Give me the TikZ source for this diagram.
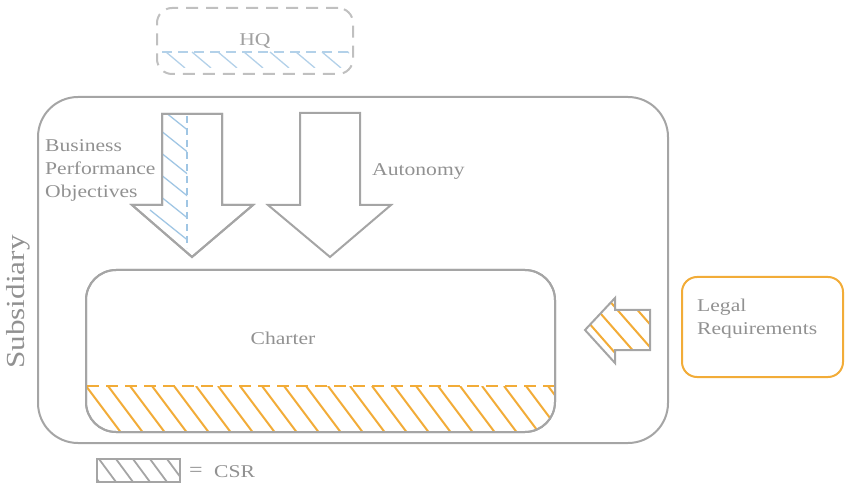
\documentclass[tikz,border=0pt]{standalone}
\usepackage{fontspec}
\setmainfont{Liberation Serif}[FakeStretch=1.2]
\definecolor{linegray}{RGB}{165,165,165}
\definecolor{txtgray}{RGB}{145,145,145}
\definecolor{csrorange}{RGB}{242,172,56}
\definecolor{hqblue}{RGB}{160,198,228}
\tikzset{
  box/.style={draw=linegray, line width=2pt, inner sep=0pt},
  lbl/.style={text=txtgray, font=\fontsize{18}{23}\selectfont, inner sep=0pt},
  bigarrow/.style={draw=linegray, line width=2pt, line join=miter, fill=white},
}
\begin{document}
\begin{tikzpicture}[x=1pt,y=-1pt]
\useasboundingbox (0,0) rectangle (846,486);

% subsidiary frame
\node[box, minimum width=630pt, minimum height=346pt, rounded corners=40pt] (sub) at (353,270) {};
\node[lbl, font=\fontsize{26}{30}\selectfont, rotate=90] (subtxt) at (18,302) {Subsidiary};

% headquarters box with its blue stripe
\node[box, draw=linegray!70, dashed, dash pattern=on 12pt off 8pt, minimum width=196pt, minimum height=66pt, rounded corners=15pt] (hq) at (255,41) {};
\begin{scope}
  \clip (160,52) rectangle (349,68);
  \foreach \x in {140,166,...,360}
    \draw[hqblue!80, line width=1.3pt] (\x,52) -- (\x+19,68);
\end{scope}
\draw[hqblue!80, line width=1.3pt, dashed, dash pattern=on 10pt off 6pt] (162,52) -- (349,52);
\node[lbl, text=txtgray!85] (hqtxt) at (255,41) {HQ};

% business performance arrow
\path[bigarrow] (162,114) -- (222,114) -- (222,205) -- (253,205) -- (192,257) -- (132,205) -- (162,205) -- cycle;
\begin{scope}
  \clip (162,114) -- (222,114) -- (222,205) -- (253,205) -- (192,257) -- (132,205) -- (162,205) -- cycle;
  \clip (120,110) rectangle (187,260);
  \foreach \y in {100,122,...,280}
    \draw[hqblue, line width=1.3pt] (150,\y) -- (200,\y+40);
\end{scope}
\draw[hqblue, line width=1.3pt, dashed, dash pattern=on 7pt off 5pt] (187,116) -- (187,248);
\draw[linegray, line width=2pt, line join=miter] (162,114) -- (222,114) -- (222,205) -- (253,205) -- (192,257) -- (132,205) -- (162,205) -- cycle;

% autonomy arrow
\path[bigarrow] (300,113) -- (360,113) -- (360,205) -- (391,205) -- (330,257) -- (268,205) -- (300,205) -- cycle;

\node[lbl, anchor=west, align=left] (bpo) at (45,170) {Business\\Performance\\Objectives};
\node[lbl, anchor=west] (aut) at (372,172) {Autonomy};

% charter with its CSR band
\node[box, minimum width=469pt, minimum height=162pt, rounded corners=30pt] (charter) at (320.5,351) {};
\begin{scope}
  \clip[rounded corners=30pt] (86,270) rectangle (555,432);
  \clip (80,386) rectangle (560,440);
  \foreach \x in {42,64,...,570}
    \draw[csrorange, line width=2pt] (\x,386) -- (\x+36,434);
\end{scope}
\draw[csrorange, line width=2pt, dashed, dash pattern=on 12pt off 7pt] (87,386) -- (554,386);
\draw[linegray, line width=2pt, rounded corners=30pt] (86,270) rectangle (555,432);
\node[lbl] (chtxt) at (283,338) {Charter};

% legal requirements and its arrow
\node[draw=csrorange, line width=2pt, minimum width=161pt, minimum height=100pt, rounded corners=15pt] (legal) at (762.5,327) {};
\node[lbl, anchor=west, align=left] (legtxt) at (697,319) {Legal\\Requirements};
\path[fill=white] (650,310) -- (615,310) -- (615,298) -- (585,330) -- (615,363) -- (615,350) -- (650,350) -- cycle;
\begin{scope}
  \clip (650,310) -- (615,310) -- (615,298) -- (585,330) -- (615,363) -- (615,350) -- (650,350) -- cycle;
  \foreach \x in {520,540,...,660}
    \draw[csrorange, line width=2pt] (\x,290) -- (\x+70,370);
\end{scope}
\draw[linegray, line width=2pt, line join=miter] (650,310) -- (615,310) -- (615,298) -- (585,330) -- (615,363) -- (615,350) -- (650,350) -- cycle;

% legend
\node[box, minimum width=83pt, minimum height=23pt] (csr) at (138.5,470.5) {};
\begin{scope}
  \clip (97,459) rectangle (180,482);
  \foreach \x in {82,99,...,185}
    \draw[linegray, line width=1.8pt] (\x,459) -- (\x+17,482);
\end{scope}
\draw[linegray, line width=2pt] (97,459) rectangle (180,482);
\node[lbl, font=\fontsize{20}{23}\selectfont] (eq) at (196,472) {=};
\node[lbl, anchor=west] (csrtxt) at (214,472) {CSR};
\end{tikzpicture}
\end{document}
